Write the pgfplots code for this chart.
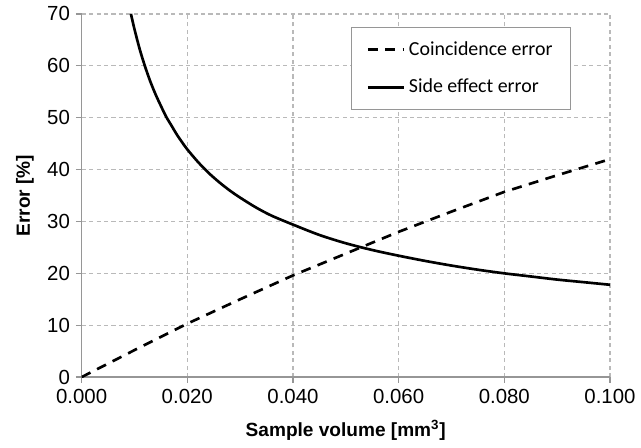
\documentclass[border=0pt]{standalone}
\usepackage{pgfplots}
\pgfplotsset{compat=1.18}
\usepackage{fontspec}
\setmainfont{Liberation Sans}
\newfontfamily\legfont{Carlito}
\definecolor{gridgray}{RGB}{185,185,185}
\definecolor{axgray}{RGB}{150,150,150}
\begin{document}
\begin{tikzpicture}
\begin{axis}[
  scale only axis,
  width=318.6pt, height=219pt,
  xmin=0, xmax=0.1, ymin=0, ymax=70,
  xtick={0,0.02,0.04,0.06,0.08,0.1},
  ytick={0,10,20,30,40,50,60,70},
  axis x line*=bottom, axis y line*=left,
  axis line style={axgray, line width=0.8pt, -},
  tick style={axgray, line width=0.8pt},
  tick align=outside, major tick length=3.5pt,
  grid=major,
  major grid style={gridgray, line width=0.7pt, dash pattern=on 2.5pt off 2pt},
  /pgf/number format/assume math mode=true,
  xticklabel style={/pgf/number format/.cd, fixed, fixed zerofill, precision=3},
  scaled x ticks=false,
  ticklabel style={font=\fontsize{12.3}{14}\selectfont},
  xlabel={\textbf{Sample volume [mm\textsuperscript{3}]}},
  ylabel={\textbf{Error [\%]}},
  label style={font=\fontsize{11.5}{13}\selectfont},
  xlabel style={at={(axis description cs:0.5,-0.146)}, anchor=center},
  ylabel style={at={(axis description cs:-0.107,0.5)}, anchor=center},
  legend style={at={(rel axis cs:0.51,0.965)}, anchor=north west,
    draw=axgray, line width=0.6pt, fill=white,
    font=\legfont\fontsize{12}{14}\selectfont,
    inner xsep=9pt, inner ysep=6.5pt, row sep=9pt},
  legend cell align=left,
  legend image code/.code={\draw[#1, line width=1.6pt] (0pt,0pt) -- (22pt,0pt);},
  clip=true,
]
\addplot[black, line width=1.6pt, dash pattern=on 6pt off 4.5pt] coordinates {
(0,0) (0.01,5.2) (0.02,10.3) (0.03,15.0) (0.04,19.6) (0.05,23.8) (0.06,28.0)
(0.07,31.9) (0.08,35.7) (0.09,38.9) (0.1,42.0)
};
\addlegendentry{Coincidence error}
\addplot[black, line width=1.6pt, smooth] coordinates {
(0.00934,70.0) (0.010,67.1) (0.011,63.2) (0.012,59.9) (0.013,57.0) (0.014,54.5)
(0.015,52.3) (0.016,50.2) (0.017,48.5) (0.018,46.8) (0.019,45.3) (0.020,43.9)
(0.022,41.5) (0.024,39.4) (0.026,37.6) (0.028,36.0) (0.030,34.6) (0.033,32.7)
(0.036,31.1) (0.040,29.4) (0.045,27.4) (0.050,25.8) (0.055,24.5) (0.060,23.4)
(0.065,22.4) (0.070,21.5) (0.075,20.7) (0.080,20.0) (0.085,19.4) (0.090,18.8)
(0.095,18.3) (0.100,17.8)
};
\addlegendentry{Side effect error}
\coordinate (bl) at (rel axis cs:0,0);
\end{axis}
\path (bl) ++(-49.2pt,-42.6pt) rectangle ++(384.6pt,270pt);
\end{tikzpicture}
\end{document}
